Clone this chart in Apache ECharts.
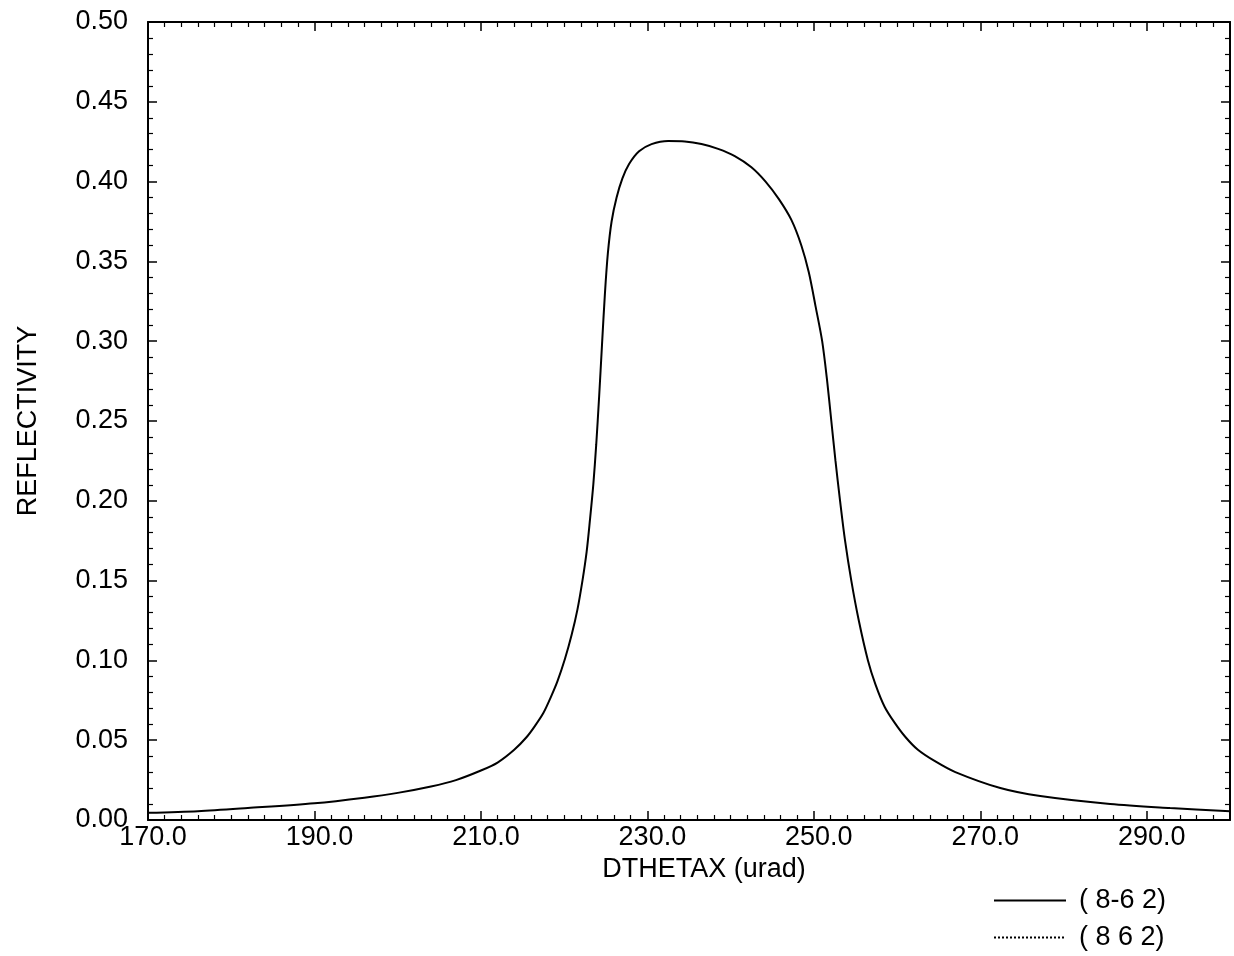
<!DOCTYPE html>
<html>
<head>
<meta charset="utf-8">
<script src="https://cdn.jsdelivr.net/npm/echarts@6/dist/echarts.min.js"></script>
<style>
html, body { margin: 0; padding: 0; background: #fff; }
#panel { width: 1234px; height: 956px; }
</style>
</head>
<body>
<div id="panel"></div>
<script>
// reflectivity curve
var dthetax = [170, 176, 182, 190, 196, 200, 204, 207, 210, 212, 214, 215.5, 216.5, 217.5, 218.4, 219.2, 220.1, 220.9, 221.6, 222.2, 222.7, 223.1, 223.5, 223.85, 224.2, 224.55, 224.9, 225.25, 225.7, 226.3, 227.0, 227.8, 229, 230.5, 232.5, 234.5, 236.5, 238.5, 240.5, 242.5, 244.2, 245.8, 247.3, 248.5, 249.4, 250.2, 251.0, 251.6, 252.1, 252.6, 253.15, 253.75, 254.5, 255.4, 256.5, 257.4, 258.5, 259.7, 261.0, 262.5, 264.5, 267.0, 272.4, 277.2, 285.6, 292.8, 300];
var refl = [0.0045, 0.0055, 0.0075, 0.0105, 0.014, 0.017, 0.021, 0.025, 0.031, 0.036, 0.044, 0.052, 0.059, 0.067, 0.077, 0.087, 0.101, 0.116, 0.132, 0.150, 0.168, 0.188, 0.210, 0.235, 0.265, 0.298, 0.330, 0.355, 0.375, 0.390, 0.402, 0.411, 0.419, 0.4235, 0.4255, 0.4252, 0.4235, 0.4205, 0.416, 0.409, 0.400, 0.389, 0.376, 0.360, 0.343, 0.322, 0.300, 0.275, 0.250, 0.225, 0.200, 0.175, 0.150, 0.125, 0.100, 0.085, 0.071, 0.061, 0.052, 0.044, 0.037, 0.030, 0.020, 0.015, 0.010, 0.0075, 0.0055];
var seriesNames = ['( 8-6 2)', '( 8 6 2)'];
var xMin = 170, xMax = 300, xStep = 20;
var yMin = 0, yMax = 0.5, yStep = 0.05;

var fontFam = 'Liberation Sans, Arial, sans-serif';
var fontSize = 27;

var myChart = echarts.init(document.getElementById('panel'), null, { renderer: 'canvas' });

var solid = [];
for (var i = 0; i < dthetax.length; i++) solid.push([dthetax[i], refl[i]]);

function frameAxis(extra) {
    var ax = {
        type: 'value',
        axisLine: { show: true, onZero: false, lineStyle: { color: '#000', width: 2 } },
        axisTick: { show: true, inside: true, length: 9, lineStyle: { color: '#000', width: 1.5 } },
        minorTick: { show: true, length: 5, lineStyle: { color: '#000', width: 1.2 } },
        splitLine: { show: false },
        axisLabel: { show: false }
    };
    for (var k in extra) ax[k] = extra[k];
    return ax;
}

var option = {
    animation: false,
    backgroundColor: '#fff',
    textStyle: { fontFamily: fontFam, color: '#000' },
    grid: { left: 148, right: 4, top: 22, bottom: 136, containLabel: false },
    legend: {
        orient: 'vertical',
        left: 988,
        top: 882,
        itemWidth: 72,
        itemHeight: 14,
        itemGap: 10,
        selectedMode: false,
        data: seriesNames,
        itemStyle: { opacity: 0 },
        textStyle: { fontFamily: fontFam, fontSize: fontSize, color: '#000', padding: [0, 0, 0, 8] }
    },
    xAxis: [
        frameAxis({
            position: 'bottom', min: xMin, max: xMax, interval: xStep,
            minorTick: { show: true, splitNumber: 10, length: 5, lineStyle: { color: '#000', width: 1.2 } },
            name: 'DTHETAX (urad)', nameLocation: 'middle', nameGap: 31,
            nameTextStyle: { fontFamily: fontFam, fontSize: fontSize, color: '#000', padding: [0, 0, 0, 30] },
            axisLabel: {
                show: true, margin: 4, showMaxLabel: false,
                fontFamily: fontFam, fontSize: fontSize, color: '#000', padding: [0, 0, 0, 10],
                formatter: function (v) { return v.toFixed(1); }
            }
        }),
        frameAxis({
            position: 'top', min: xMin, max: xMax, interval: xStep,
            minorTick: { show: true, splitNumber: 10, length: 5, lineStyle: { color: '#000', width: 1.2 } }
        })
    ],
    yAxis: [
        frameAxis({
            position: 'left', min: yMin, max: yMax, interval: yStep,
            minorTick: { show: true, splitNumber: 5, length: 5, lineStyle: { color: '#000', width: 1.2 } },
            name: 'REFLECTIVITY', nameLocation: 'middle', nameGap: 106, nameRotate: 90,
            nameTextStyle: { fontFamily: fontFam, fontSize: fontSize, color: '#000' },
            axisLabel: {
                show: true, margin: 20,
                fontFamily: fontFam, fontSize: fontSize, color: '#000',
                formatter: function (v) { return v.toFixed(2); }
            }
        }),
        frameAxis({
            position: 'right', min: yMin, max: yMax, interval: yStep,
            minorTick: { show: true, splitNumber: 5, length: 5, lineStyle: { color: '#000', width: 1.2 } }
        })
    ],
    series: [
        {
            name: seriesNames[0],
            type: 'line',
            data: solid,
            symbol: 'none',
            smooth: 0.3,
            lineStyle: { color: '#000', width: 2 },
            itemStyle: { color: 'rgba(0,0,0,0)' }
        },
        {
            name: seriesNames[1],
            type: 'line',
            data: [],
            symbol: 'none',
            lineStyle: { color: '#000', width: 1.5, type: 'dotted' },
            itemStyle: { color: 'rgba(0,0,0,0)' }
        }
    ]
};
myChart.setOption(option);
</script>
</body>
</html>
